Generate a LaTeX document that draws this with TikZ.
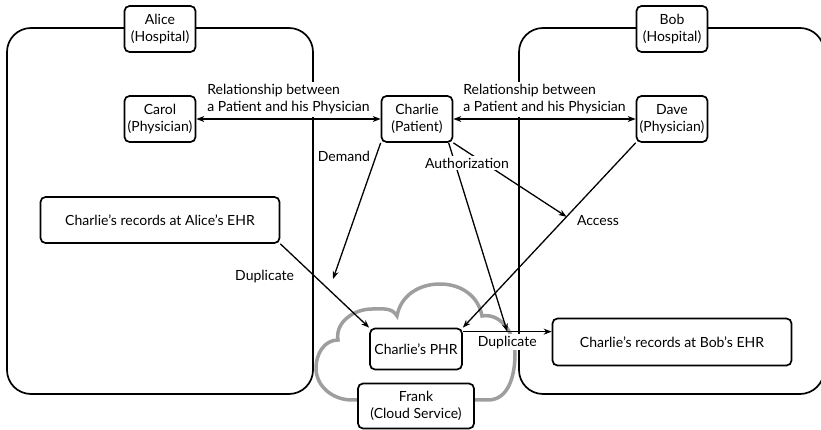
\documentclass[tikz,border=0pt]{standalone}
\usepackage{fontspec}
\setmainfont{Lato}
\usetikzlibrary{arrows.meta,positioning,calc}

\begin{document}
\begin{tikzpicture}[x=1pt,y=1pt,
			every node/.style={font=\fontsize{14}{17}\selectfont},
			hosp/.style={draw, line width=1.7pt, rounded corners=24pt},
			ent/.style={draw, fill=white, line width=1.7pt, rounded corners=5pt, minimum width=71pt, minimum height=46pt, align=center, inner sep=2pt},
			rec/.style={ent, minimum width=239pt},
			lbl/.style={fill=white, inner sep=1.5pt},
			arr/.style={-{Stealth[length=8pt,width=6pt]}, line width=1.3pt},
			biarr/.style={{Stealth[length=8pt,width=6pt]}-{Stealth[length=8pt,width=6pt]}, line width=1.3pt}]
			\clip (0,0) rectangle (821,430);
			% hospitals and cloud
			\draw[hosp] (7,36) rectangle (313,402);
			\draw[hosp] (519,36) rectangle (824,402);
			\draw[line width=3.5pt, black!38] (372,30) -- (352,30) to[out=180,in=270] (316,62) to[out=90,in=180] (338,90)
				to[out=100,in=180] (372,121) to[out=0,in=120] (397,114)
				to[out=80,in=180] (440,146) to[out=0,in=100] (482,114)
				to[out=10,in=90] (515,76) to[out=270,in=0] (488,30) -- (460,30);
			\node[ent] (alice) at (160,401) {Alice\\(Hospital)};
			\node[ent] (bob) at (672,401) {Bob\\(Hospital)};
			\node[ent] (carol) at (160,311) {Carol\\(Physician)};
			\node[ent] (charlie) at (417,311) {Charlie\\(Patient)};
			\node[ent] (dave) at (672,311) {Dave\\(Physician)};
			\node[rec] (alicerec) at (160,210) {Charlie's records at Alice's EHR};
			\node[rec, minimum height=47pt] (bobrec) at (672,88) {Charlie's records at Bob's EHR};
			\node[ent, minimum width=92pt, minimum height=41pt] (phr) at (416,81) {Charlie's PHR};
			\node[ent, minimum width=116pt, minimum height=45pt] (frank) at (416,24) {Frank\\(Cloud Service)};
			\coordinate (dem) at (333,151);
			% connectors
			\draw[biarr] (carol) -- (charlie) node[midway, above=1pt, lbl, inner ysep=3pt, align=left] {Relationship between\\a Patient and his Physician};
			\draw[biarr] (charlie) -- (dave) node[midway, above=1pt, lbl, inner ysep=3pt, align=left] {Relationship between\\a Patient and his Physician};
			\draw[arr] (charlie.south west) -- (dem) node[pos=0.1, left=2pt] {Demand};
			\draw[arr] (alicerec.south east) -- (phr.north west) node[pos=0.39, left=17pt] {Duplicate};
			\draw[arr] (dave.south west) -- coordinate[pos=0.4] (acc) (phr.north east) node[pos=0.42, right=10pt] {Access};
			\coordinate (dup) at ([yshift=-4pt]phr.north east);
			\draw[arr] (dup) -- coordinate[midway] (dupmid) (dup -| bobrec.west) node[midway, below=2pt, lbl] {Duplicate};
			\draw[arr] (charlie.south east) -- (acc);
			\draw[arr] (charlie.-37) -- (dupmid);
			\node[lbl] (auth) at (467,267) {Authorization};
		\end{tikzpicture}
\end{document}
